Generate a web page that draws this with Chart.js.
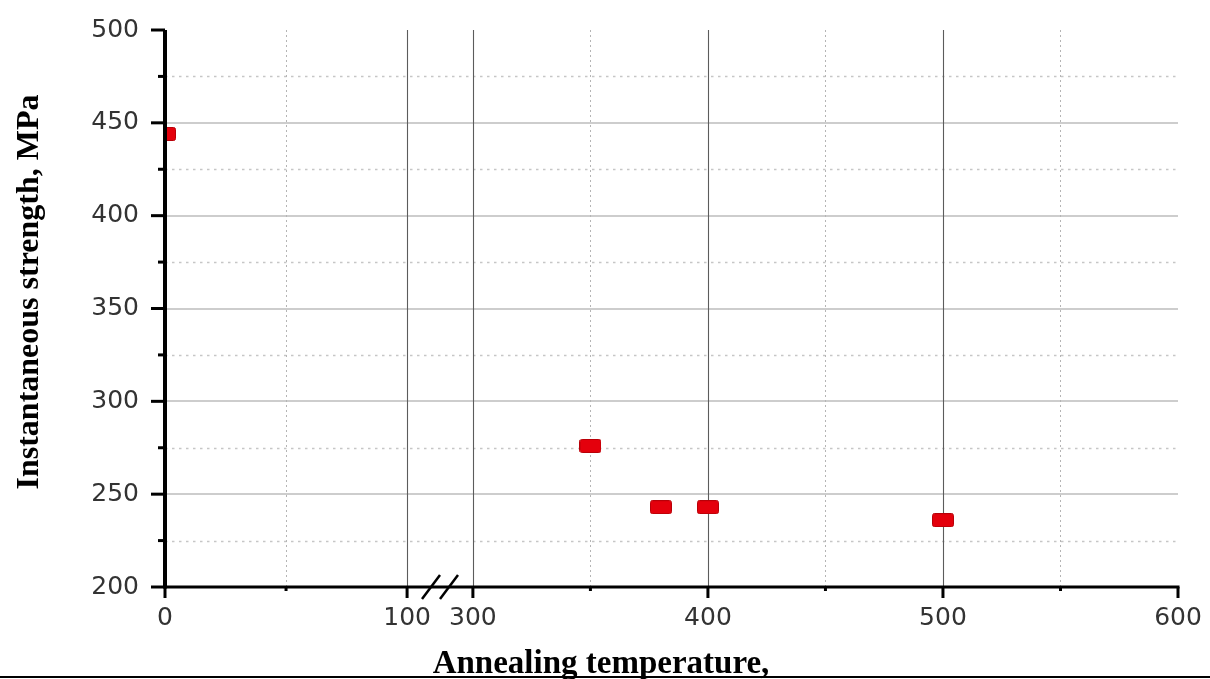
<!DOCTYPE html>
<html>
<head>
<meta charset="utf-8">
<title>Instantaneous strength vs annealing temperature</title>
<script src="https://cdn.jsdelivr.net/npm/chart.js@4.4.1/dist/chart.umd.min.js"></script>
<style>
  html, body { margin: 0; padding: 0; background: #ffffff; }
  #wrap { width: 1210px; height: 679px; }
</style>
</head>
<body>
<div id="wrap"><canvas id="chart" width="1210" height="679"></canvas></div>
<script>
// Measured specimens: annealing temperature (°C) and instantaneous strength (MPa)
const TEMPS    = [0, 350, 380, 400, 500];
const STRENGTH = [444, 276, 243, 243, 236];

// Axis ticks
const X_MAJOR = [0, 100, 300, 400, 500, 600];
const X_MINOR = [50, 350, 450, 550];
const Y_MAJOR = [200, 250, 300, 350, 400, 450, 500];
const Y_MINOR = [225, 275, 325, 375, 425, 475];

// The temperature axis is broken between 100 and 300 °C
const BREAK_FROM = 100;
const BREAK_TO = 300;
const BREAK_GAP = 28;     // width of the break, in axis units
const LEFT_SCALE = 1.03;  // the segment before the break is drawn slightly wider

function axisPos(t) {
  return t <= BREAK_FROM
    ? t * LEFT_SCALE
    : BREAK_FROM * LEFT_SCALE + BREAK_GAP + (t - BREAK_TO);
}

// Rectangular red marker
function makeMarker() {
  const c = document.createElement('canvas');
  c.width = 22; c.height = 14;
  const g = c.getContext('2d');
  g.fillStyle = '#e4000c';
  g.beginPath();
  g.roundRect(0.5, 0.5, 21, 13, 2);
  g.fill();
  g.strokeStyle = '#b80008';
  g.lineWidth = 1;
  g.stroke();
  return c;
}

const gridPlugin = {
  id: 'plotFrame',
  beforeDatasetsDraw(chart) {
    const { ctx, chartArea: a, scales: { x, y } } = chart;
    ctx.save();
    // horizontal grid
    Y_MAJOR.filter(v => v > 200 && v < 500).forEach(v => {
      const py = Math.round(y.getPixelForValue(v));
      ctx.strokeStyle = '#cdcdcd';
      ctx.lineWidth = 2;
      ctx.setLineDash([]);
      ctx.beginPath(); ctx.moveTo(a.left, py); ctx.lineTo(a.right, py); ctx.stroke();
    });
    Y_MINOR.forEach(v => {
      const py = Math.round(y.getPixelForValue(v)) + 0.5;
      ctx.strokeStyle = '#c6c6c6';
      ctx.lineWidth = 1.6;
      ctx.setLineDash([2.5, 4.5]);
      ctx.beginPath(); ctx.moveTo(a.left, py); ctx.lineTo(a.right, py); ctx.stroke();
    });
    // vertical grid
    X_MAJOR.filter(t => t > 0 && t < 600).forEach(t => {
      const px = Math.round(x.getPixelForValue(axisPos(t))) + 0.5;
      ctx.strokeStyle = '#5c5c5c';
      ctx.lineWidth = 1.1;
      ctx.setLineDash([]);
      ctx.beginPath(); ctx.moveTo(px, a.top); ctx.lineTo(px, a.bottom); ctx.stroke();
    });
    X_MINOR.forEach(t => {
      const px = Math.round(x.getPixelForValue(axisPos(t))) + 0.5;
      ctx.strokeStyle = '#b4b4b4';
      ctx.lineWidth = 1;
      ctx.setLineDash([2, 3]);
      ctx.beginPath(); ctx.moveTo(px, a.top); ctx.lineTo(px, a.bottom); ctx.stroke();
    });
    ctx.restore();
  },
  afterDatasetsDraw(chart) {
    const { ctx, chartArea: a, scales: { x, y } } = chart;
    ctx.save();
    ctx.setLineDash([]);
    ctx.strokeStyle = '#000';
    ctx.lineCap = 'butt';
    // x axis line
    ctx.lineWidth = 3;
    ctx.beginPath(); ctx.moveTo(a.left, a.bottom); ctx.lineTo(a.right + 1.5, a.bottom); ctx.stroke();
    // x ticks
    X_MAJOR.forEach(t => {
      const px = x.getPixelForValue(axisPos(t));
      ctx.beginPath(); ctx.moveTo(px, a.bottom); ctx.lineTo(px, a.bottom + 11); ctx.stroke();
    });
    X_MINOR.forEach(t => {
      const px = x.getPixelForValue(axisPos(t));
      ctx.beginPath(); ctx.moveTo(px, a.bottom); ctx.lineTo(px, a.bottom + 4); ctx.stroke();
    });
    // y ticks
    Y_MAJOR.forEach(v => {
      const py = y.getPixelForValue(v);
      ctx.beginPath(); ctx.moveTo(a.left - 14, py); ctx.lineTo(a.left, py); ctx.stroke();
    });
    Y_MINOR.forEach(v => {
      const py = y.getPixelForValue(v);
      ctx.beginPath(); ctx.moveTo(a.left - 7, py); ctx.lineTo(a.left, py); ctx.stroke();
    });
    // y axis line
    ctx.lineWidth = 4;
    ctx.beginPath(); ctx.moveTo(a.left, a.top); ctx.lineTo(a.left, a.bottom + 1.5); ctx.stroke();
    // axis break marks
    const xm = (x.getPixelForValue(axisPos(BREAK_FROM)) + x.getPixelForValue(axisPos(BREAK_TO))) / 2;
    ctx.lineWidth = 2.5;
    [-9, 9].forEach(d => {
      ctx.beginPath();
      ctx.moveTo(xm + d - 9, a.bottom + 12);
      ctx.lineTo(xm + d + 9, a.bottom - 12);
      ctx.stroke();
    });
    ctx.restore();
  },
  afterDraw(chart) {
    const { ctx } = chart;
    ctx.save();
    ctx.fillStyle = '#000';
    ctx.font = 'bold 32px "Liberation Serif", "Times New Roman", serif';
    // y axis title
    ctx.save();
    ctx.translate(38, 292);
    ctx.rotate(-Math.PI / 2);
    ctx.textAlign = 'center';
    ctx.textBaseline = 'alphabetic';
    ctx.fillText('Instantaneous strength, MPa', 0, 0);
    ctx.restore();
    // x axis title
    ctx.font = 'bold 33px "Liberation Serif", "Times New Roman", serif';
    ctx.textAlign = 'center';
    ctx.textBaseline = 'alphabetic';
    ctx.fillText('Annealing temperature,', 601, 673);
    // rule under the figure
    ctx.strokeStyle = '#000';
    ctx.lineWidth = 2;
    ctx.beginPath(); ctx.moveTo(0, 677); ctx.lineTo(chart.width, 677); ctx.stroke();
    ctx.restore();
  }
};

const tickFont = { family: '"DejaVu Sans", sans-serif', size: 25 };

new Chart(document.getElementById('chart'), {
  type: 'scatter',
  data: {
    datasets: [{
      label: 'Instantaneous strength',
      data: TEMPS.map((t, i) => ({ x: axisPos(t), y: STRENGTH[i] })),
      pointStyle: makeMarker(),
      pointRadius: 11,
      showLine: false,
      clip: { left: 0, top: false, right: false, bottom: false }
    }]
  },
  options: {
    responsive: false,
    animation: false,
    events: [],
    layout: { padding: { left: 0, right: 32, top: 30, bottom: 0 } },
    plugins: { legend: { display: false }, tooltip: { enabled: false } },
    scales: {
      x: {
        type: 'linear',
        min: axisPos(0),
        max: axisPos(600),
        afterBuildTicks: s => { s.ticks = X_MAJOR.map(t => ({ value: axisPos(t) })); },
        afterFit: s => { s.height = 92; s.paddingLeft = 0; s.paddingRight = 0; },
        grid: { display: false, drawTicks: false },
        border: { display: false },
        ticks: {
          autoSkip: false,
          maxRotation: 0,
          padding: 16,
          color: '#333333',
          font: tickFont,
          callback: (v, i) => String(X_MAJOR[i])
        }
      },
      y: {
        type: 'linear',
        min: 200,
        max: 500,
        afterBuildTicks: s => { s.ticks = Y_MAJOR.map(v => ({ value: v })); },
        afterFit: s => { s.width = 165; s.paddingTop = 0; s.paddingBottom = 0; },
        grid: { display: false, drawTicks: false },
        border: { display: false },
        ticks: {
          padding: 26,
          color: '#333333',
          font: tickFont,
          callback: v => String(v)
        }
      }
    }
  },
  plugins: [gridPlugin]
});
</script>
</body>
</html>
